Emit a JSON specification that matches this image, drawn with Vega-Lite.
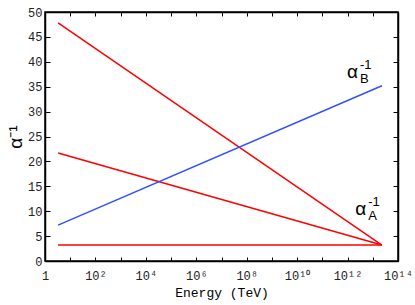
{
  "$schema": "https://vega.github.io/schema/vega-lite/v6.json",
  "width": 353,
  "height": 249,
  "autosize": {"type": "none"},
  "padding": {"left": 45, "top": 12, "right": 17, "bottom": 44},
  "background": "white",
  "config": {
    "view": {"stroke": "black", "strokeWidth": 1.5},
    "axis": {
      "domainColor": "black", "domainWidth": 1.5, "tickColor": "black", "tickWidth": 1,
      "grid": false, "labelFont": "Liberation Mono", "labelFontSize": 12, "labelColor": "#222",
      "titleColor": "black", "titleFontWeight": "normal"
    }
  },
  "datasets": {
    "lines": [
      {"series": "r1", "energy": 3.3, "alpha": 47.8},
      {"series": "r1", "energy": 2.3e13, "alpha": 3.2},
      {"series": "r2", "energy": 3.3, "alpha": 21.7},
      {"series": "r2", "energy": 2.3e13, "alpha": 3.2},
      {"series": "r3", "energy": 3.3, "alpha": 3.2},
      {"series": "r3", "energy": 2.3e13, "alpha": 3.2},
      {"series": "b", "energy": 3.3, "alpha": 7.2},
      {"series": "b", "energy": 2.3e13, "alpha": 35.2}
    ],
    "labels": [
      {"energy": 9.5e11, "alpha": 37.9, "main": "α", "sub": "B", "sup": "-1"},
      {"energy": 2e12, "alpha": 10.4, "main": "α", "sub": "A", "sup": "-1"}
    ]
  },
  "layer": [
    {
      "data": {"name": "lines"},
      "mark": {"type": "line", "strokeWidth": 1.5},
      "encoding": {
        "x": {
          "field": "energy", "type": "quantitative",
          "scale": {"type": "log", "domain": [1, 1e14]},
          "axis": {
            "orient": "bottom",
            "values": [1, 10, 100, 1000, 10000, 100000, 1000000, 10000000, 100000000, 1000000000, 10000000000, 100000000000, 1000000000000, 10000000000000, 100000000000000],
            "labelExpr": "round(log(datum.value)/LN10) == 0 ? '1' : round(log(datum.value)/LN10) == 2 ? '10²' : round(log(datum.value)/LN10) == 4 ? '10⁴' : round(log(datum.value)/LN10) == 6 ? '10⁶' : round(log(datum.value)/LN10) == 8 ? '10⁸' : round(log(datum.value)/LN10) == 10 ? '10¹⁰' : round(log(datum.value)/LN10) == 12 ? '10¹²' : round(log(datum.value)/LN10) == 14 ? '10¹⁴' : ''",
            "labelFlush": false, "labelOverlap": false,
            "tickSize": -4, "labelPadding": 13,
            "title": "Energy (TeV)", "titleFont": "Liberation Mono", "titleFontSize": 13, "titlePadding": 5
          }
        },
        "y": {
          "field": "alpha", "type": "quantitative",
          "scale": {"domain": [0, 50]},
          "axis": {
            "orient": "left",
            "values": [0, 5, 10, 15, 20, 25, 30, 35, 40, 45, 50],
            "tickSize": -5, "labelPadding": 8, "labelFlush": false,
            "title": "α⁻¹", "titleFont": "Liberation Sans", "titleFontSize": 19, "titlePadding": 2
          }
        },
        "color": {
          "field": "series", "type": "nominal",
          "scale": {"domain": ["r1", "r2", "r3", "b"], "range": ["#ff0000", "#ff0000", "#ff0000", "#3050ff"]},
          "legend": null
        }
      }
    },
    {
      "data": {"name": "labels"},
      "mark": {"type": "text", "align": "left", "baseline": "middle", "font": "Liberation Sans", "fontSize": 19, "color": "black"},
      "encoding": {
        "x": {
          "field": "energy", "type": "quantitative",
          "scale": {"type": "log", "domain": [1, 1e14]},
          "axis": {
            "orient": "top", "labels": false, "title": null, "tickSize": -4,
            "values": [1, 10, 100, 1000, 10000, 100000, 1000000, 10000000, 100000000, 1000000000, 10000000000, 100000000000, 1000000000000, 10000000000000, 100000000000000]
          }
        },
        "y": {
          "field": "alpha", "type": "quantitative",
          "scale": {"domain": [0, 50]},
          "axis": {"orient": "right", "labels": false, "title": null, "tickSize": -5, "values": [0, 5, 10, 15, 20, 25, 30, 35, 40, 45, 50]}
        },
        "text": {"field": "main"}
      }
    },
    {
      "data": {"name": "labels"},
      "mark": {"type": "text", "align": "left", "baseline": "middle", "font": "Liberation Sans", "fontSize": 13, "color": "black", "dx": 13, "dy": 7},
      "encoding": {
        "x": {"field": "energy", "type": "quantitative", "scale": {"type": "log", "domain": [1, 1e14]}, "axis": null},
        "y": {"field": "alpha", "type": "quantitative", "scale": {"domain": [0, 50]}, "axis": null},
        "text": {"field": "sub"}
      }
    },
    {
      "data": {"name": "labels"},
      "mark": {"type": "text", "align": "left", "baseline": "middle", "font": "Liberation Sans", "fontSize": 13, "color": "black", "dx": 13, "dy": -7},
      "encoding": {
        "x": {"field": "energy", "type": "quantitative", "scale": {"type": "log", "domain": [1, 1e14]}, "axis": null},
        "y": {"field": "alpha", "type": "quantitative", "scale": {"domain": [0, 50]}, "axis": null},
        "text": {"field": "sup"}
      }
    }
  ],
  "resolve": {"axis": {"x": "independent", "y": "independent"}}
}
